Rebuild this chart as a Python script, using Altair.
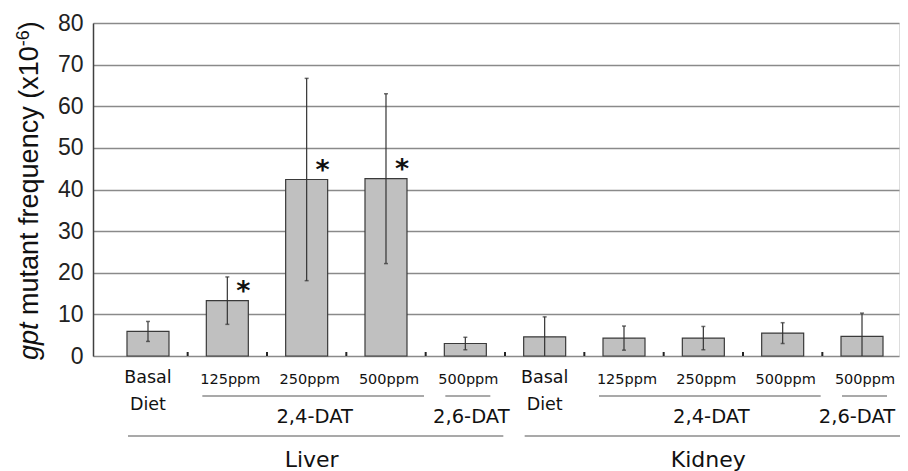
import altair as alt
import pandas as pd

# ---------------- data ----------------
categories = ["L-basal", "L-24-125", "L-24-250", "L-24-500", "L-26-500",
              "K-basal", "K-24-125", "K-24-250", "K-24-500", "K-26-500"]
means = [5.9, 13.3, 42.4, 42.6, 3.0, 4.6, 4.3, 4.3, 5.5, 4.7]
sds = [2.4, 5.7, 24.3, 20.4, 1.5, 4.8, 2.9, 2.8, 2.5, 5.6]
stars = ["", "*", "*", "*", "", "", "", "", "", ""]

basal_cats = ["L-basal", "K-basal"]
basal_text = ["Basal\nDiet", "Basal\nDiet"]

dose_cats = ["L-24-125", "L-24-250", "L-24-500", "L-26-500",
             "K-24-125", "K-24-250", "K-24-500", "K-26-500"]
dose_labels = ["125ppm", "250ppm", "500ppm", "500ppm",
               "125ppm", "250ppm", "500ppm", "500ppm"]

dat24_labels = ["2,4-DAT", "2,4-DAT"]
dat24_first = ["L-24-125", "K-24-125"]
dat24_last = ["L-24-500", "K-24-500"]
dat24_mid = ["L-24-250", "K-24-250"]

dat26_labels = ["2,6-DAT", "2,6-DAT"]
dat26_cat = ["L-26-500", "K-26-500"]

tissue_labels = ["Liver", "Kidney"]
tissue_first = ["L-basal", "K-basal"]
tissue_last = ["L-26-500", "K-26-500"]
tissue_mid = ["L-24-250", "K-24-250"]

y_ticks = [0, 10, 20, 30, 40, 50, 60, 70, 80]
title_parts = ["gpt", "mutant frequency (x10", "-6", ")"]

# ---------------- layout ----------------
W, H = 806, 333
STEP = 79.33
xscale = alt.Scale(domain=categories, paddingInner=0.4706, paddingOuter=0.315, align=0.68)
yscale = alt.Scale(domain=[0, 80], nice=False)
LAB_FONT = "DejaVu Sans"
INK = "#111111"


def X(field):
    return alt.X(field, scale=xscale, axis=None)


df = pd.DataFrame({"cat": categories, "mean": means, "sd": sds, "star": stars})
df["lo"] = [max(0.0, m - s) for m, s in zip(means, sds)]
df["hi"] = [m + s for m, s in zip(means, sds)]

bars = alt.Chart(df).mark_bar(color="#c0c0c0", stroke="#3a3a3a", strokeWidth=1.2).encode(
    x=alt.X("cat:N", scale=xscale, axis=alt.Axis(labels=False, ticks=False, title=None,
                                                  domainColor="#404040", domainWidth=2)),
    y=alt.Y("mean:Q", scale=yscale,
            axis=alt.Axis(values=y_ticks, grid=True, gridColor="#8a8a8a", gridWidth=1.3,
                          ticks=False, domainColor="#404040", domainWidth=1.5,
                          labelFont="Liberation Sans", labelFontSize=23, labelColor="#222222",
                          labelPadding=10, title=None)),
)

err = alt.Chart(df).mark_rule(color="#333333", strokeWidth=1.2).encode(
    x=X("cat:N"), y=alt.Y("lo:Q", scale=yscale), y2="hi:Q")
cap_hi = alt.Chart(df).mark_tick(color="#333333", orient="horizontal", size=4, thickness=1.5).encode(
    x=X("cat:N"), y=alt.Y("hi:Q", scale=yscale))
cap_lo = alt.Chart(df[df["lo"] > 0]).mark_tick(color="#333333", orient="horizontal", size=4, thickness=1.5).encode(
    x=X("cat:N"), y=alt.Y("lo:Q", scale=yscale))

star_txt = alt.Chart(df[df["star"] != ""]).mark_text(
    font=LAB_FONT, fontWeight="bold", fontSize=27, dx=16, dy=-1, baseline="alphabetic", color=INK
).encode(x=X("cat:N"), y=alt.Y("mean:Q", scale=yscale), text="star:N")

sep_ticks = alt.Chart(pd.DataFrame({"cat": categories[1:]})).mark_rule(
    color="#222222", strokeWidth=2, xOffset=-STEP / 2
).encode(x=X("cat:N"), y=alt.value(H), y2=alt.value(H - 4))

basal = alt.Chart(pd.DataFrame({"cat": basal_cats, "t": basal_text})).mark_text(
    font=LAB_FONT, fontSize=17.5, lineBreak="\n", lineHeight=27, baseline="middle", color=INK
).encode(x=X("cat:N"), y=alt.value(H + 22), text="t:N")

doses = alt.Chart(pd.DataFrame({"cat": dose_cats, "t": dose_labels})).mark_text(
    font=LAB_FONT, fontSize=14.5, baseline="middle", dx=3, color=INK
).encode(x=X("cat:N"), y=alt.value(H + 24), text="t:N")

dat24_df = pd.DataFrame({"first": dat24_first, "last": dat24_last, "mid": dat24_mid, "t": dat24_labels})
dat24_rule = alt.Chart(dat24_df).mark_rule(color="#555555", strokeWidth=1.2, xOffset=-25, x2Offset=38).encode(
    x=X("first:N"), x2="last:N", y=alt.value(H + 40))
dat24_txt = alt.Chart(dat24_df).mark_text(
    font=LAB_FONT, fontSize=19.5, baseline="middle", dx=8, color=INK
).encode(x=X("mid:N"), y=alt.value(H + 61), text="t:N")

dat26_df = pd.DataFrame({"cat": dat26_cat, "t": dat26_labels})
dat26_rule = alt.Chart(dat26_df).mark_rule(color="#555555", strokeWidth=1.2, xOffset=-20, x2Offset=25).encode(
    x=X("cat:N"), x2="cat:N", y=alt.value(H + 40))
dat26_layers = []
for i, shift in enumerate([6, -5]):
    dat26_layers.append(
        alt.Chart(dat26_df.iloc[[i]]).mark_text(
            font=LAB_FONT, fontSize=19.5, baseline="middle", dx=shift, color=INK
        ).encode(x=X("cat:N"), y=alt.value(H + 61), text="t:N")
    )

tis_df = pd.DataFrame({"first": tissue_first, "last": tissue_last, "mid": tissue_mid, "t": tissue_labels})
tis_rule = alt.Chart(tis_df).mark_rule(color="#555555", strokeWidth=1.2, xOffset=-20, x2Offset=38).encode(
    x=X("first:N"), x2="last:N", y=alt.value(H + 80))
tis_txt = alt.Chart(tis_df).mark_text(
    font=LAB_FONT, fontSize=22, baseline="middle", dx=5, color=INK
).encode(x=X("mid:N"), y=alt.value(H + 104), text="t:N")

# y-axis title built from pieces (italic gene name, superscript exponent)
TS = 27
SUP = 18
TX = -55
TY0 = 337
y_main = TY0 - TS * (1.39 + 0.278)
y_sup = y_main - TS * (10.227 - 0.278)
y_close = y_sup - SUP * 0.889


def title_piece(text, size, xpos, ypos, style="normal"):
    return alt.Chart(pd.DataFrame({"t": [text]})).mark_text(
        font="Liberation Sans", fontSize=size, fontStyle=style, angle=270, align="left",
        baseline="alphabetic", color=INK
    ).encode(x=alt.value(xpos), y=alt.value(ypos), text="t:N")


t1 = title_piece(title_parts[0], TS, TX, TY0, "italic")
t2 = title_piece(title_parts[1], TS, TX, y_main)
t3 = title_piece(title_parts[2], SUP, TX - 9, y_sup)
t4 = title_piece(title_parts[3], TS, TX, y_close)

chart = alt.layer(
    bars, err, cap_hi, cap_lo, star_txt, sep_ticks,
    basal, doses, dat24_rule, dat24_txt, dat26_rule, *dat26_layers, tis_rule, tis_txt,
    t1, t2, t3, t4,
).properties(
    width=W, height=H,
    autosize=alt.AutoSizeParams(type="none"),
    padding={"left": 85, "top": 15, "right": 1, "bottom": 115},
).configure_view(stroke=None).configure(background="white")

chart.save("out.html", embed_options={"renderer": "svg", "actions": False})
